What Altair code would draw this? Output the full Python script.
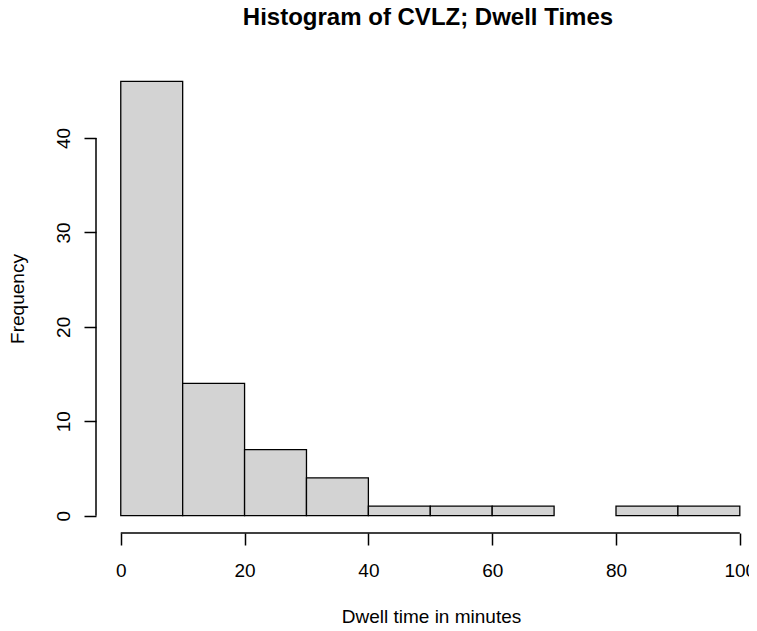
import altair as alt
import pandas as pd

# Histogram bins (minutes) and frequencies
bin_starts = [0, 10, 20, 30, 40, 50, 60, 70, 80, 90]
bin_ends = [10, 20, 30, 40, 50, 60, 70, 80, 90, 100]
counts = [46, 14, 7, 4, 1, 1, 1, 0, 1, 1]

x_ticks = [0, 20, 40, 60, 80, 100]
y_ticks = [0, 10, 20, 30, 40]

title_text = "Histogram of CVLZ; Dwell Times"
x_title = "Dwell time in minutes"
y_title = "Frequency"

W, H = 650, 469
FONT = "Liberation Sans"

bars_df = pd.DataFrame({"start": bin_starts, "end": bin_ends, "count": counts})
xrule_df = pd.DataFrame({"start": [min(x_ticks)], "end": [max(x_ticks)]})
yrule_df = pd.DataFrame({"count": [min(y_ticks)], "count2": [max(y_ticks)]})
title_df = pd.DataFrame({"label": [title_text]})

xscale = alt.Scale(domain=[-4, 101], nice=False, zero=False)
yscale = alt.Scale(domain=[-1.84, 47.84], nice=False, zero=False)

xaxis = alt.Axis(
    values=x_ticks, domain=False, grid=False, tickSize=12, tickWidth=1.5,
    tickColor="black", labelFont=FONT, labelFontSize=19, labelColor="black",
    labelPadding=16, labelFlush=False, labelOverlap=False,
    title=x_title, titleFont=FONT, titleFontSize=19, titleFontWeight="normal",
    titleColor="black", titleX=335, titleY=89, titleAlign="center",
    titleBaseline="alphabetic",
)
yaxis = alt.Axis(
    values=y_ticks, domain=False, grid=False, tickSize=12, tickWidth=1.5,
    tickColor="black", labelFont=FONT, labelFontSize=19, labelColor="black",
    labelAngle=270, labelAlign="center", labelBaseline="alphabetic",
    labelPadding=15, labelFlush=False, labelOverlap=False,
    title=y_title, titleFont=FONT, titleFontSize=19, titleFontWeight="normal",
    titleColor="black", titleX=-73, titleY=H / 2, titleAngle=270,
    titleAlign="center", titleBaseline="alphabetic",
)

bars = alt.Chart(bars_df).transform_filter("datum.count > 0").mark_rect(
    fill="#D3D3D3", stroke="black", strokeWidth=1.3
).encode(
    x=alt.X("start:Q", scale=xscale, axis=xaxis),
    x2="end:Q",
    y=alt.Y("count:Q", scale=yscale, axis=yaxis),
    y2=alt.datum(0),
)

xrule = alt.Chart(xrule_df).mark_rule(color="black", strokeWidth=1.5).encode(
    x=alt.X("start:Q", scale=xscale, axis=xaxis),
    x2="end:Q",
    y=alt.value(H),
)

yrule = alt.Chart(yrule_df).mark_rule(color="black", strokeWidth=1.5).encode(
    y=alt.Y("count:Q", scale=yscale, axis=yaxis),
    y2="count2:Q",
    x=alt.value(0),
)

title = alt.Chart(title_df).mark_text(
    font=FONT, fontSize=24, fontWeight="bold", color="black",
    align="center", baseline="alphabetic",
).encode(
    text="label:N",
    x=alt.value(332),
    y=alt.value(-39),
)

chart = alt.layer(bars, xrule, yrule, title).properties(
    width=W, height=H,
    background="white",
    autosize=alt.AutoSizeParams(type="none"),
    padding={"left": 88, "top": 56, "right": 3, "bottom": 90},
).configure_view(stroke="transparent", strokeWidth=0)

chart.save("out.html", embed_options={"renderer": "svg", "actions": False})
